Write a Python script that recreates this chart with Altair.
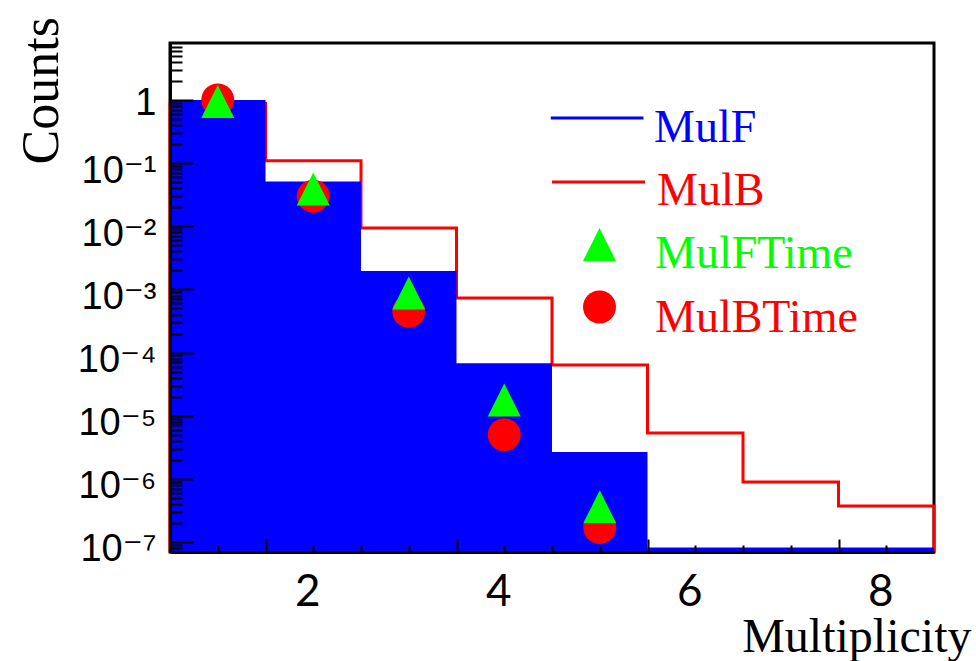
import math
import altair as alt
import pandas as pd

# ---------------- data ----------------
bin_lo = [0.5, 1.5, 2.5, 3.5, 4.5, 5.5, 6.5, 7.5]
bin_hi = [1.5, 2.5, 3.5, 4.5, 5.5, 6.5, 7.5, 8.5]
mulF = [1.0, 5.1e-2, 1.96e-3, 6.8e-5, 2.66e-6, 0.0, 0.0, 0.0]
mulB = [0.88, 0.109, 9.4e-3, 7.3e-4, 6.35e-5, 5.3e-6, 8.9e-7, 3.7e-7]
time_x = [1, 2, 3, 4, 5]
mulF_time = [0.95, 0.039, 8.8e-4, 1.77e-5, 3.6e-7]
mulB_time = [1.0, 0.030, 4.5e-4, 5.0e-6, 1.7e-7]

x_label_values = [2, 4, 6, 8]
y_decades = [1e-7, 1e-6, 1e-5, 1e-4, 1e-3, 1e-2, 1e-1, 1.0]
y_decade_labels = ["10⁻⁷", "10⁻⁶", "10⁻⁵", "10⁻⁴", "10⁻³", "10⁻²", "10⁻¹", "1"]
x_domain = [0.5, 8.5]
y_domain = [6.94e-8, 8.0]

BLUE, RED, GREEN = "#0000ff", "#ff0000", "#00ff00"
W, H = 764, 509
SERIF = "Liberation Serif, Times New Roman, serif"
SANS = "Liberation Sans, Arial, DejaVu Sans, sans-serif"

# ---------------- tick values ----------------
x_minor = [1.0 + 0.5 * i for i in range(15)]
y_minor = []
for e in range(-8, 1):
    for k in range(1, 10):
        v = k * 10.0 ** e
        if y_domain[0] <= v < y_domain[1]:
            y_minor.append(v)

decade_test = "abs(log(datum.value)/LN10 - round(log(datum.value)/LN10)) < 0.001"
label_expr = " : ".join(
    f"round(log(datum.value)/LN10) == {round(math.log10(v))} ? '{lab}'"
    for v, lab in zip(y_decades, y_decade_labels)
) + " : ''"

xs = alt.Scale(domain=x_domain, nice=False, zero=False)
ys = alt.Scale(type="log", domain=y_domain, nice=False)

y_label_axis = alt.Axis(
    orient="left", values=y_decades, labelExpr=label_expr, ticks=False, tickSize=0,
    domain=False, grid=False, labelFont=SANS, labelFontSize=38, labelColor="black",
    labelPadding=14, labelBaseline="middle", labelOverlap=False, labelFlush=False,
    labelOffset={"condition": {"test": "datum.value >= 1", "value": 3}, "value": 8},
    title="Counts", titleFont=SERIF, titleFontSize=52, titleFontWeight="normal",
    titleColor="black", titleAngle=270, titleBaseline="alphabetic", titleAlign="left",
    titleX=-113, titleY=121,
)
x_label_axis = alt.Axis(
    orient="bottom", values=x_label_values, format="d", ticks=False, tickSize=0,
    domain=False, grid=False, labelFont="Lato", labelFontSize=44, labelColor="black",
    labelPadding=18, labelBaseline="top", labelOffset=-6, labelFlush=False, labelOverlap=False,
    title="Multiplicity", titleFont=SERIF, titleFontSize=48, titleFontWeight="normal",
    titleColor="black", titleAlign="right", titleBaseline="alphabetic", titleX=801, titleY=99,
)
y_tick_axis = alt.Axis(
    orient="right", offset=-W, values=y_minor, labels=False, grid=False, title=None,
    domain=True, domainColor="black", domainWidth=3, ticks=True, tickColor="black",
    tickWidth=2, tickSize={"condition": {"test": decade_test, "value": 23}, "value": 12},
    zindex=1,
)
x_tick_axis = alt.Axis(
    orient="top", offset=-H, values=x_minor, labels=False, grid=False, title=None,
    domain=True, domainColor="black", domainWidth=3, ticks=True, tickColor="black",
    tickWidth=2,
    tickSize={"condition": {"test": "(datum.value - 1.5) % 2 == 0", "value": 13}, "value": 7},
    zindex=1,
)


def leg(x, y, color, sym, size, off, sw=0):
    return alt.Legend(
        orient="none", legendX=x, legendY=y, title=None, padding=0,
        labelFont=SERIF, labelFontSize=46, labelColor=color, labelLimit=600,
        labelBaseline="middle", labelOffset=off, symbolType=sym, symbolSize=size,
        symbolStrokeWidth=sw, symbolStrokeColor=color, symbolFillColor=color,
        clipHeight=60, symbolOpacity=1,
    )


line_len2 = 93 ** 2
mark2 = 33 ** 2
leg_F = leg(380.5, 55, BLUE, "M-1,-0.247L1,-0.247L1,-0.183L-1,-0.183Z", line_len2, 10.5)
leg_B = leg(380.5, 118, RED, "M-1,-0.194L1,-0.194", line_len2, 10.5, 3)
leg_Ft = leg(406.5, 181, GREEN, "M0,-1.576L1,0.424L-1,0.424Z", mark2, 32.5)
leg_Bt = leg(406.5, 245, RED,
             "M-1,-0.667A1,1,0,1,1,1,-0.667A1,1,0,1,1,-1,-0.667Z", mark2, 32.5)

# ---------------- MulB outline ----------------
vx, vy = [bin_lo[0]], [y_domain[0]]
for lo, hi, v in zip(bin_lo, bin_hi, mulB):
    vx += [lo, hi]
    vy += [v, v]
vx.append(bin_hi[-1])
vy.append(y_domain[0])
df_B = pd.DataFrame({"x": vx, "y": vy, "o": list(range(len(vx))), "name": "MulB"})

line_B = alt.Chart(df_B).mark_line(strokeWidth=3).encode(
    x=alt.X("x:Q", scale=xs, axis=x_label_axis),
    y=alt.Y("y:Q", scale=ys, axis=y_label_axis),
    order="o:Q",
    stroke=alt.Stroke("name:N", scale=alt.Scale(domain=["MulB"], range=[RED]), legend=leg_B),
)

# ---------------- MulF filled histogram ----------------
nz = [i for i, v in enumerate(mulF) if v > 0]
df_F = pd.DataFrame({
    "x": [bin_lo[i] for i in nz] + [bin_hi[nz[-1]]],
    "y": [mulF[i] for i in nz] + [mulF[nz[-1]]],
    "base": y_domain[0],
    "name": "MulF",
})
area_F = alt.Chart(df_F).mark_area(interpolate="step-after", opacity=1).encode(
    x=alt.X("x:Q", scale=xs, axis=x_tick_axis),
    y=alt.Y("y:Q", scale=ys, axis=y_tick_axis),
    y2="base:Q",
    fill=alt.Fill("name:N", scale=alt.Scale(domain=["MulF"], range=[BLUE]), legend=leg_F),
)

zi = [i for i, v in enumerate(mulF) if v == 0]
df_Z = pd.DataFrame({
    "x": [bin_lo[i] for i in zi],
    "x2": [bin_hi[i] for i in zi],
    "y": y_domain[0],
})
rule_Z = alt.Chart(df_Z).mark_rule(color=BLUE, strokeWidth=9, clip=True).encode(
    x=alt.X("x:Q", scale=xs, axis=None),
    x2="x2:Q",
    y=alt.Y("y:Q", scale=ys, axis=None),
)

# ---------------- markers ----------------
df_Bt = pd.DataFrame({"x": time_x, "y": mulB_time, "name": "MulBTime"})
pts_B = alt.Chart(df_Bt).mark_point(filled=True, shape="circle", size=mark2, opacity=1).encode(
    x=alt.X("x:Q", scale=xs, axis=None),
    y=alt.Y("y:Q", scale=ys, axis=None),
    color=alt.Color("name:N", scale=alt.Scale(domain=["MulBTime"], range=[RED]), legend=leg_Bt),
)

df_Ft = pd.DataFrame({"x": time_x, "y": mulF_time, "name": "MulFTime"})
pts_F = alt.Chart(df_Ft).mark_point(
    filled=True, shape="M0,-1L1,1L-1,1Z", size=mark2, color=GREEN
).encode(
    x=alt.X("x:Q", scale=xs, axis=None),
    y=alt.Y("y:Q", scale=ys, axis=None),
    opacity=alt.Opacity("name:N", scale=alt.Scale(domain=["MulFTime"], range=[1]), legend=leg_Ft),
)

chart = (
    alt.layer(line_B, area_F, rule_Z, pts_B, pts_F)
    .resolve_axis(x="independent", y="independent")
    .resolve_scale(x="shared", y="shared")
    .properties(
        width=W, height=H,
        autosize=alt.AutoSizeParams(type="none"),
        padding={"left": 170, "top": 43, "right": 42, "bottom": 109},
        background="white",
    )
    .configure_view(stroke="black", strokeWidth=3)
)

chart.save("out.html", embed_options={"renderer": "svg", "actions": False})
